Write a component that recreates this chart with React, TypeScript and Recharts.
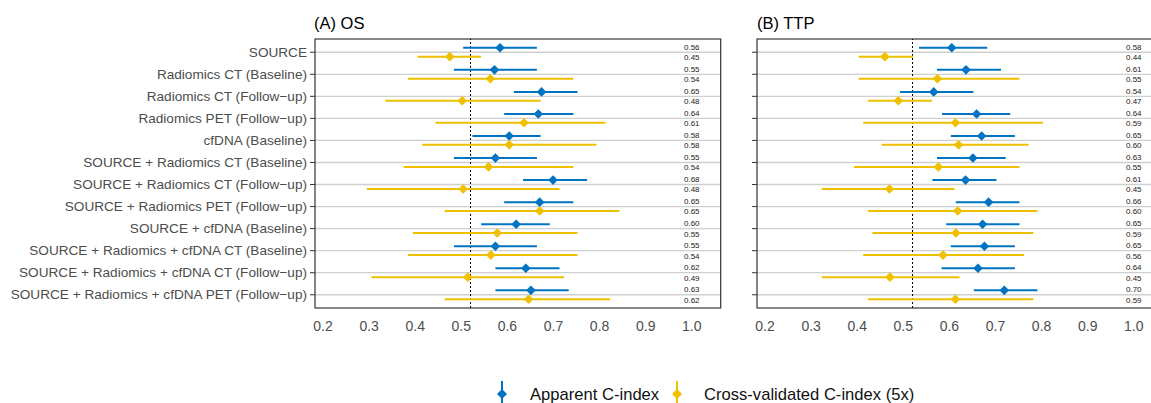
import { CartesianGrid, ErrorBar, ReferenceArea, ReferenceLine, Scatter, ScatterChart, XAxis, YAxis } from 'recharts';

const categories = [
  'SOURCE',
  'Radiomics CT (Baseline)',
  'Radiomics CT (Follow\u2212up)',
  'Radiomics PET (Follow\u2212up)',
  'cfDNA (Baseline)',
  'SOURCE + Radiomics CT (Baseline)',
  'SOURCE + Radiomics CT (Follow\u2212up)',
  'SOURCE + Radiomics PET (Follow\u2212up)',
  'SOURCE + cfDNA (Baseline)',
  'SOURCE + Radiomics + cfDNA CT (Baseline)',
  'SOURCE + Radiomics + cfDNA CT (Follow\u2212up)',
  'SOURCE + Radiomics + cfDNA PET (Follow\u2212up)',
];

const xTicks = [0.2, 0.3, 0.4, 0.5, 0.6, 0.7, 0.8, 0.9, 1.0];
const threshold = 0.52;

// (A) OS
const osApparent = [0.584, 0.572, 0.674, 0.667, 0.604, 0.574, 0.699, 0.670, 0.619, 0.574, 0.640, 0.651];
const osApparentLo = [0.504, 0.484, 0.614, 0.593, 0.524, 0.484, 0.634, 0.593, 0.543, 0.484, 0.574, 0.574];
const osApparentHi = [0.664, 0.664, 0.752, 0.743, 0.672, 0.664, 0.773, 0.743, 0.692, 0.664, 0.713, 0.733];
const osCv = [0.475, 0.563, 0.502, 0.636, 0.604, 0.559, 0.504, 0.670, 0.578, 0.564, 0.514, 0.646];
const osCvLo = [0.405, 0.384, 0.335, 0.444, 0.415, 0.375, 0.295, 0.464, 0.395, 0.384, 0.305, 0.464];
const osCvHi = [0.543, 0.743, 0.672, 0.813, 0.793, 0.743, 0.713, 0.843, 0.752, 0.752, 0.723, 0.823];
const osApparentText = ['0.56', '0.55', '0.65', '0.64', '0.58', '0.55', '0.68', '0.65', '0.60', '0.55', '0.62', '0.63'];
const osCvText = ['0.45', '0.54', '0.48', '0.61', '0.58', '0.54', '0.48', '0.65', '0.55', '0.54', '0.49', '0.62'];

// (B) TTP
const ttpApparent = [0.605, 0.636, 0.566, 0.659, 0.670, 0.651, 0.635, 0.685, 0.672, 0.676, 0.662, 0.719];
const ttpApparentLo = [0.534, 0.573, 0.493, 0.584, 0.603, 0.573, 0.563, 0.614, 0.593, 0.603, 0.583, 0.653];
const ttpApparentHi = [0.682, 0.712, 0.652, 0.732, 0.742, 0.722, 0.702, 0.752, 0.752, 0.742, 0.742, 0.791];
const ttpCv = [0.460, 0.574, 0.489, 0.613, 0.620, 0.576, 0.470, 0.618, 0.614, 0.586, 0.471, 0.613];
const ttpCvLo = [0.403, 0.403, 0.423, 0.413, 0.453, 0.393, 0.323, 0.423, 0.433, 0.413, 0.323, 0.423];
const ttpCvHi = [0.521, 0.752, 0.562, 0.803, 0.772, 0.752, 0.611, 0.791, 0.782, 0.762, 0.622, 0.782];
const ttpApparentText = ['0.58', '0.61', '0.54', '0.64', '0.65', '0.63', '0.61', '0.66', '0.65', '0.65', '0.64', '0.70'];
const ttpCvText = ['0.44', '0.55', '0.47', '0.59', '0.60', '0.55', '0.45', '0.60', '0.59', '0.56', '0.45', '0.59'];

const BLUE = '#0073C2';
const YELLOW = '#EFC000';
const FONT = '"Liberation Sans", Arial, Helvetica, sans-serif';
const DODGE = 0.2;
const X_DOMAIN: [number, number] = [0.1826, 1.0627];
const Y_DOMAIN: [number, number] = [-0.6, 11.6];

function points(est: number[], lo: number[], hi: number[], shift: number) {
  return est.map((v, i) => ({ x: v, y: i + shift, err: [v - lo[i], hi[i] - v] }));
}

function textRows(texts: string[], shift: number) {
  return texts.map((t, i) => ({ x: 1.0, y: i + shift, label: t }));
}

const diamond = (color: string) => (p: any) => {
  const { cx, cy } = p;
  const r = 4.8;
  return <polygon points={`${cx},${cy - r} ${cx + r},${cy} ${cx},${cy + r} ${cx - r},${cy}`} fill={color} />;
};

const valueText = (dy: number) => (p: any) => (
  <text x={p.cx} y={p.cy + dy} textAnchor="middle" dominantBaseline="central" fontSize={8} fill="#222" fontFamily={FONT}>
    {p.payload.label}
  </text>
);

const categoryTick = (show: boolean) => (p: any) =>
  show ? (
    <text x={p.x} y={p.y} textAnchor="end" dominantBaseline="central" fontSize={13.6} fill="#4d4d4d" fontFamily={FONT}>
      {categories[p.payload.value]}
    </text>
  ) : <g />;

type PanelProps = {
  left: number;
  width: number;
  axisWidth: number;
  showLabels: boolean;
  apparent: number[]; apparentLo: number[]; apparentHi: number[];
  cv: number[]; cvLo: number[]; cvHi: number[];
  apparentText: string[]; cvText: string[];
};

function Panel(props: PanelProps) {
  const blue = points(props.apparent, props.apparentLo, props.apparentHi, -DODGE);
  const yellow = points(props.cv, props.cvLo, props.cvHi, DODGE);
  return (
    <div style={{ position: 'absolute', left: props.left, top: 0 }}>
      <ScatterChart width={props.width} height={340} margin={{ top: 39, right: 4.3, bottom: 2, left: 0 }}>
        <CartesianGrid horizontal vertical={false} stroke="#cfcfcf" strokeWidth={1.3} />
        <XAxis
          type="number"
          dataKey="x"
          domain={X_DOMAIN}
          ticks={xTicks}
          tickFormatter={(v: number) => v.toFixed(1)}
          axisLine={false}
          tickLine={false}
          tickSize={11}
          height={30}
          tick={{ fill: '#4d4d4d', fontSize: 14, fontFamily: FONT }}
        />
        <YAxis
          type="number"
          dataKey="y"
          domain={Y_DOMAIN}
          reversed
          ticks={categories.map((_, i) => i)}
          interval={0}
          width={props.axisWidth}
          axisLine={false}
          tickLine={{ stroke: '#333' }}
          tickSize={5}
          tickMargin={3}
          tick={categoryTick(props.showLabels)}
        />
        <ReferenceArea x1={X_DOMAIN[0]} x2={X_DOMAIN[1]} y1={Y_DOMAIN[0]} y2={Y_DOMAIN[1]} fill="none" stroke="#333" strokeWidth={1.2} fillOpacity={0} />
        <ReferenceLine x={threshold} stroke="#000" strokeDasharray="2 2" strokeWidth={1} />
        <Scatter data={blue} isAnimationActive={false} shape={diamond(BLUE)}>
          <ErrorBar dataKey="err" direction="x" width={0} stroke={BLUE} strokeWidth={2} />
        </Scatter>
        <Scatter data={yellow} isAnimationActive={false} shape={diamond(YELLOW)}>
          <ErrorBar dataKey="err" direction="x" width={0} stroke={YELLOW} strokeWidth={2} />
        </Scatter>
        <Scatter data={textRows(props.apparentText, -DODGE)} isAnimationActive={false} shape={valueText(-0.5)} />
        <Scatter data={textRows(props.cvText, DODGE)} isAnimationActive={false} shape={valueText(1)} />
      </ScatterChart>
    </div>
  );
}

export default function App() {
  return (
    <div style={{ position: 'absolute', left: 0, top: 0, width: 1151, height: 403, overflow: 'hidden', background: '#fff' }}>
      <Panel
        left={0} width={725} axisWidth={315} showLabels
        apparent={osApparent} apparentLo={osApparentLo} apparentHi={osApparentHi}
        cv={osCv} cvLo={osCvLo} cvHi={osCvHi}
        apparentText={osApparentText} cvText={osCvText}
      />
      <Panel
        left={746.7} width={420} axisWidth={10} showLabels={false}
        apparent={ttpApparent} apparentLo={ttpApparentLo} apparentHi={ttpApparentHi}
        cv={ttpCv} cvLo={ttpCvLo} cvHi={ttpCvHi}
        apparentText={ttpApparentText} cvText={ttpCvText}
      />
      <svg width={1151} height={403} style={{ position: 'absolute', left: 0, top: 0, pointerEvents: 'none' }}>
        <text x={314} y={29} fontSize={16.5} fontFamily={FONT} fill="#000">(A) OS</text>
        <text x={757} y={29} fontSize={16.5} fontFamily={FONT} fill="#000">(B) TTP</text>
        <line x1={502} x2={502} y1={381} y2={403} stroke={BLUE} strokeWidth={2} />
        <polygon points="502,389 507,394 502,399 497,394" fill={BLUE} />
        <text x={530} y={394} fontSize={16.6} fontFamily={FONT} fill="#111" dominantBaseline="central">Apparent C-index</text>
        <line x1={677} x2={677} y1={381} y2={403} stroke={YELLOW} strokeWidth={2} />
        <polygon points="677,389 682,394 677,399 672,394" fill={YELLOW} />
        <text x={704} y={394} fontSize={16.6} fontFamily={FONT} fill="#111" dominantBaseline="central">Cross-validated C-index (5x)</text>
      </svg>
    </div>
  );
}
